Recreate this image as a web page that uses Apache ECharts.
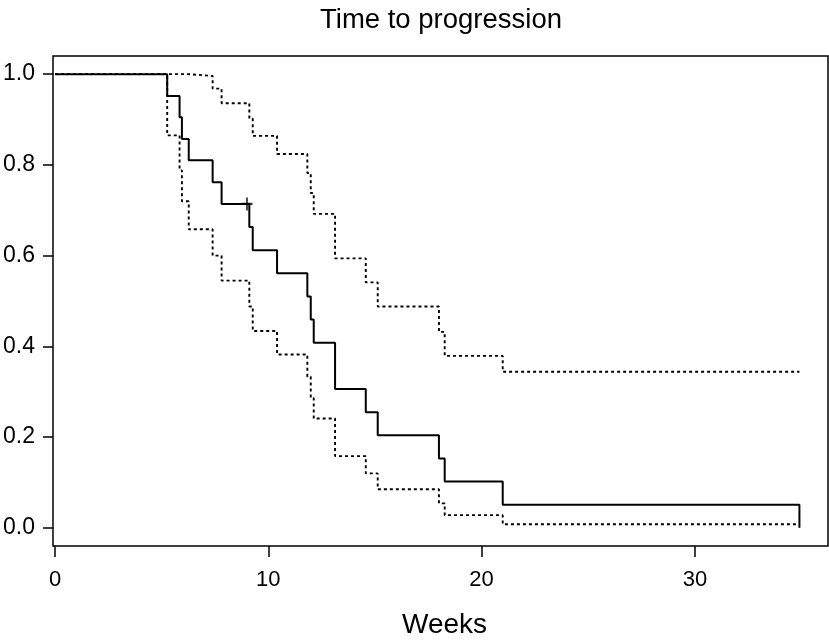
<!DOCTYPE html>
<html>
<head>
<meta charset="utf-8">
<script src="https://cdn.jsdelivr.net/npm/echarts@6/dist/echarts.min.js"></script>
<style>
  html, body { margin: 0; padding: 0; background: #fff; }
  #chart { width: 829px; height: 644px; }
</style>
</head>
<body>
<div id="chart"></div>
<script>
// Kaplan-Meier estimate (weeks -> proportion free of progression)
const weeks    = [0, 5.26, 5.84, 5.95, 6.27, 7.39, 7.81, 9.11, 9.27, 10.41, 11.83, 11.99, 12.13, 13.13, 14.57, 15.13, 18.0, 18.27, 20.99, 34.9];
const survival = [1, 0.952, 0.905, 0.857, 0.810, 0.762, 0.714, 0.663, 0.612, 0.561, 0.510, 0.459, 0.408, 0.306, 0.255, 0.204, 0.153, 0.102, 0.051, 0];
const upperCI  = [1, 1, 1, 1, 0.996, 0.968, 0.936, 0.902, 0.864, 0.824, 0.782, 0.738, 0.692, 0.594, 0.541, 0.488, 0.432, 0.379, 0.344, 0.344];
const lowerCI  = [1, 0.865, 0.788, 0.720, 0.658, 0.600, 0.545, 0.488, 0.434, 0.382, 0.333, 0.286, 0.241, 0.158, 0.120, 0.085, 0.054, 0.028, 0.008, 0.008];
const censorWeeks = [9.0];
const censorSurv  = [0.714];
const xTicks = [0, 10, 20, 30];
const yTicks = [0, 0.2, 0.4, 0.6, 0.8, 1.0];

const font = "Liberation Sans";
const pair = (xs, ys) => xs.map((x, i) => [x, ys[i]]);
const plus = "path://M-1.6,-10 H1.6 V-1.6 H10 V1.6 H1.6 V10 H-1.6 V1.6 H-10 V-1.6 H-1.6 Z";

const chart = echarts.init(document.getElementById("chart"), null, { renderer: "canvas" });

const dotted = {
  type: "line",
  step: "end",
  symbol: "none",
  silent: true,
  lineStyle: { color: "#000", width: 1.9, type: [3, 3] },
};

const option = {
  animation: false,
  backgroundColor: "#fff",
  title: {
    text: "Time to progression",
    left: 436,
    textAlign: "center",
    top: 1,
    textStyle: { fontFamily: font, fontWeight: "normal", fontSize: 27.5, color: "#000" },
  },
  grid: {
    left: 53, right: 1, top: 56, bottom: 98,
    containLabel: false,
    outerBoundsMode: "none",
    show: true, borderColor: "#000", borderWidth: 1.5, backgroundColor: "transparent",
  },
  xAxis: {
    type: "value",
    min: -0.094,
    max: 36.24,
    name: "Weeks",
    nameLocation: "middle",
    nameGap: 65,
    nameTextStyle: { fontFamily: font, fontSize: 28, color: "#000", padding: [0, 0, 0, 8] },
    axisLine: { show: false, onZero: false },
    splitLine: { show: false },
    axisTick: { show: true, inside: false, length: 11, customValues: xTicks,
      lineStyle: { color: "#000", width: 1.5 } },
    axisLabel: { customValues: xTicks, margin: 23, fontFamily: font, fontSize: 22, color: "#000",
      showMinLabel: true, showMaxLabel: true },
  },
  yAxis: {
    type: "value",
    min: -0.04,
    max: 1.04,
    axisLine: { show: false, onZero: false },
    splitLine: { show: false },
    axisTick: { show: true, inside: false, length: 10, customValues: yTicks,
      lineStyle: { color: "#000", width: 1.5 } },
    axisLabel: { customValues: yTicks, margin: 18, fontFamily: font, fontSize: 23, color: "#000",
      formatter: (v) => v.toFixed(1) },
  },
  series: [
    Object.assign({ name: "upper", data: pair(weeks, upperCI) }, dotted),
    Object.assign({ name: "lower", data: pair(weeks, lowerCI) }, dotted),
    {
      name: "Kaplan-Meier",
      type: "line",
      step: "end",
      symbol: "none",
      silent: true,
      lineStyle: { color: "#000", width: 2 },
      data: pair(weeks, survival),
    },
    {
      name: "censored",
      type: "scatter",
      symbol: plus,
      symbolSize: [11, 13],
      itemStyle: { color: "#000" },
      silent: true,
      data: pair(censorWeeks, censorSurv),
    },
  ],
};

option && chart.setOption(option);
</script>
</body>
</html>
